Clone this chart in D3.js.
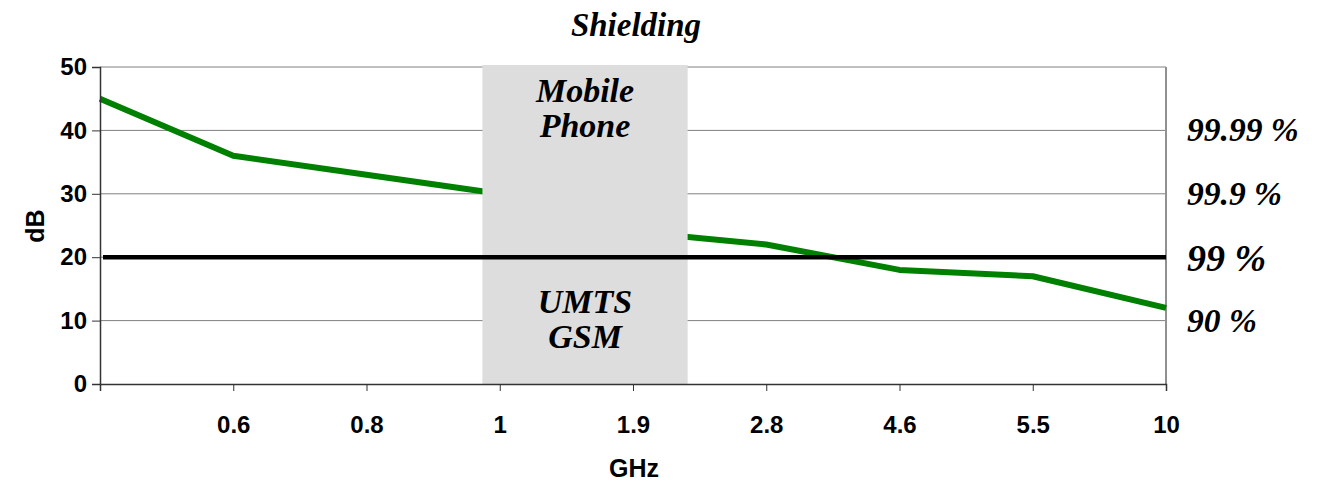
<!DOCTYPE html>
<html><head><meta charset="utf-8">
<script src="https://cdn.jsdelivr.net/npm/d3@7"></script>
<style>body{margin:0;background:#fff}svg{display:block}</style>
</head><body>
<script>
// Data
const categories = ["", "0.6", "0.8", "1", "1.9", "2.8", "4.6", "5.5", "10"];
const shielding = [45, 36, 33, 30, 24, 22, 18, 17, 12];
const yTicks = [0, 10, 20, 30, 40, 50];
const thresholdDb = 20;
const bandRange = [2.87, 4.41]; // in category index units
const bandTop = ["Mobile", "Phone"];
const bandBottom = ["UMTS", "GSM"];
const pctLabels = ["99.99 %", "99.9 %", "99 %", "90 %"];
const pctDb = [40, 30, 20, 10];

const W = 1318, H = 481;
const m = {left: 100, right: 1166, top: 67, bottom: 384};
const svg = d3.select("body").append("svg").attr("width", W).attr("height", H);

const x = d3.scalePoint().domain(d3.range(categories.length)).range([m.left, m.right]);
const xi = d3.scaleLinear().domain([0, categories.length - 1]).range([m.left, m.right]);
const y = d3.scaleLinear().domain([0, 50]).range([m.bottom, m.top]);

const sans = "Liberation Sans, Arial, sans-serif";
const serif = "Liberation Serif, Times New Roman, serif";

// gridlines
svg.append("g").selectAll("line").data(yTicks.filter(d => d > 0)).join("line")
  .attr("x1", m.left).attr("x2", m.right).attr("y1", d => y(d)).attr("y2", d => y(d))
  .attr("stroke", "#808080").attr("stroke-width", 1);
// right border
svg.append("line").attr("x1", m.right).attr("x2", m.right).attr("y1", m.top).attr("y2", m.bottom)
  .attr("stroke", "#909090").attr("stroke-width", 2);

// line series
svg.append("path").datum(shielding)
  .attr("d", d3.line().x((d, i) => x(i)).y(d => y(d)))
  .attr("fill", "none").attr("stroke", "#008000").attr("stroke-width", 6).attr("stroke-linejoin", "round");

// band
svg.append("rect").attr("x", xi(bandRange[0])).attr("width", xi(bandRange[1]) - xi(bandRange[0]))
  .attr("y", y(50) - 2).attr("height", y(0) - y(50) + 2).attr("fill", "#DDDDDD");

// threshold
svg.append("line").attr("x1", m.left + 3).attr("x2", m.right).attr("y1", y(thresholdDb)).attr("y2", y(thresholdDb))
  .attr("stroke", "#000").attr("stroke-width", 4.5);

// axes
const yAxis = svg.append("g").attr("transform", `translate(${m.left},0)`)
  .call(d3.axisLeft(y).tickValues(yTicks).tickSize(8).tickPadding(5));
yAxis.select(".domain").attr("stroke", "#333").attr("stroke-width", 1.5);
yAxis.selectAll(".tick line").attr("stroke", "#333");
yAxis.selectAll("text").attr("font-family", sans).attr("font-weight", "bold")
  .attr("font-size", 24).attr("fill", "#000");

const xAxis = svg.append("g").attr("transform", `translate(0,${m.bottom})`)
  .call(d3.axisBottom(x).tickFormat(i => categories[i]).tickSize(7).tickPadding(25));
xAxis.select(".domain").attr("stroke", "#333").attr("stroke-width", 1.5);
xAxis.selectAll(".tick line").attr("stroke", "#333");
xAxis.selectAll("text").attr("font-family", sans).attr("font-weight", "bold")
  .attr("font-size", 24).attr("fill", "#000");

// titles
svg.append("text").attr("x", 636).attr("y", 36).attr("text-anchor", "middle")
  .attr("font-family", serif).attr("font-weight", "bold").attr("font-style", "italic").attr("font-size", 33)
  .text("Shielding");
svg.append("text").attr("x", 634).attr("y", 477).attr("text-anchor", "middle")
  .attr("font-family", sans).attr("font-weight", "bold").attr("font-size", 25)
  .text("GHz");
svg.append("text").attr("transform", "translate(44,226) rotate(-90)").attr("text-anchor", "middle")
  .attr("font-family", sans).attr("font-weight", "bold").attr("font-size", 25)
  .text("dB");

// band labels
const bandX = (xi(bandRange[0]) + xi(bandRange[1])) / 2;
svg.append("g").selectAll("text").data(bandTop).join("text")
  .attr("x", bandX).attr("y", (d, i) => 102 + i * 35).attr("text-anchor", "middle")
  .attr("font-family", serif).attr("font-weight", "bold").attr("font-style", "italic").attr("font-size", 34)
  .text(d => d);
svg.append("g").selectAll("text").data(bandBottom).join("text")
  .attr("x", bandX).attr("y", (d, i) => 313 + i * 35).attr("text-anchor", "middle")
  .attr("font-family", serif).attr("font-weight", "bold").attr("font-style", "italic").attr("font-size", 34)
  .text(d => d);

// percentage labels
svg.append("g").selectAll("text").data(pctLabels).join("text")
  .attr("x", 1187).attr("y", (d, i) => y(pctDb[i]) + 11 + (pctDb[i] === thresholdDb ? 3 : 0))
  .attr("font-family", serif).attr("font-weight", "bold").attr("font-style", "italic")
  .attr("font-size", (d, i) => pctDb[i] === thresholdDb ? 38 : 33.5)
  .text(d => d);
</script>
</body></html>
